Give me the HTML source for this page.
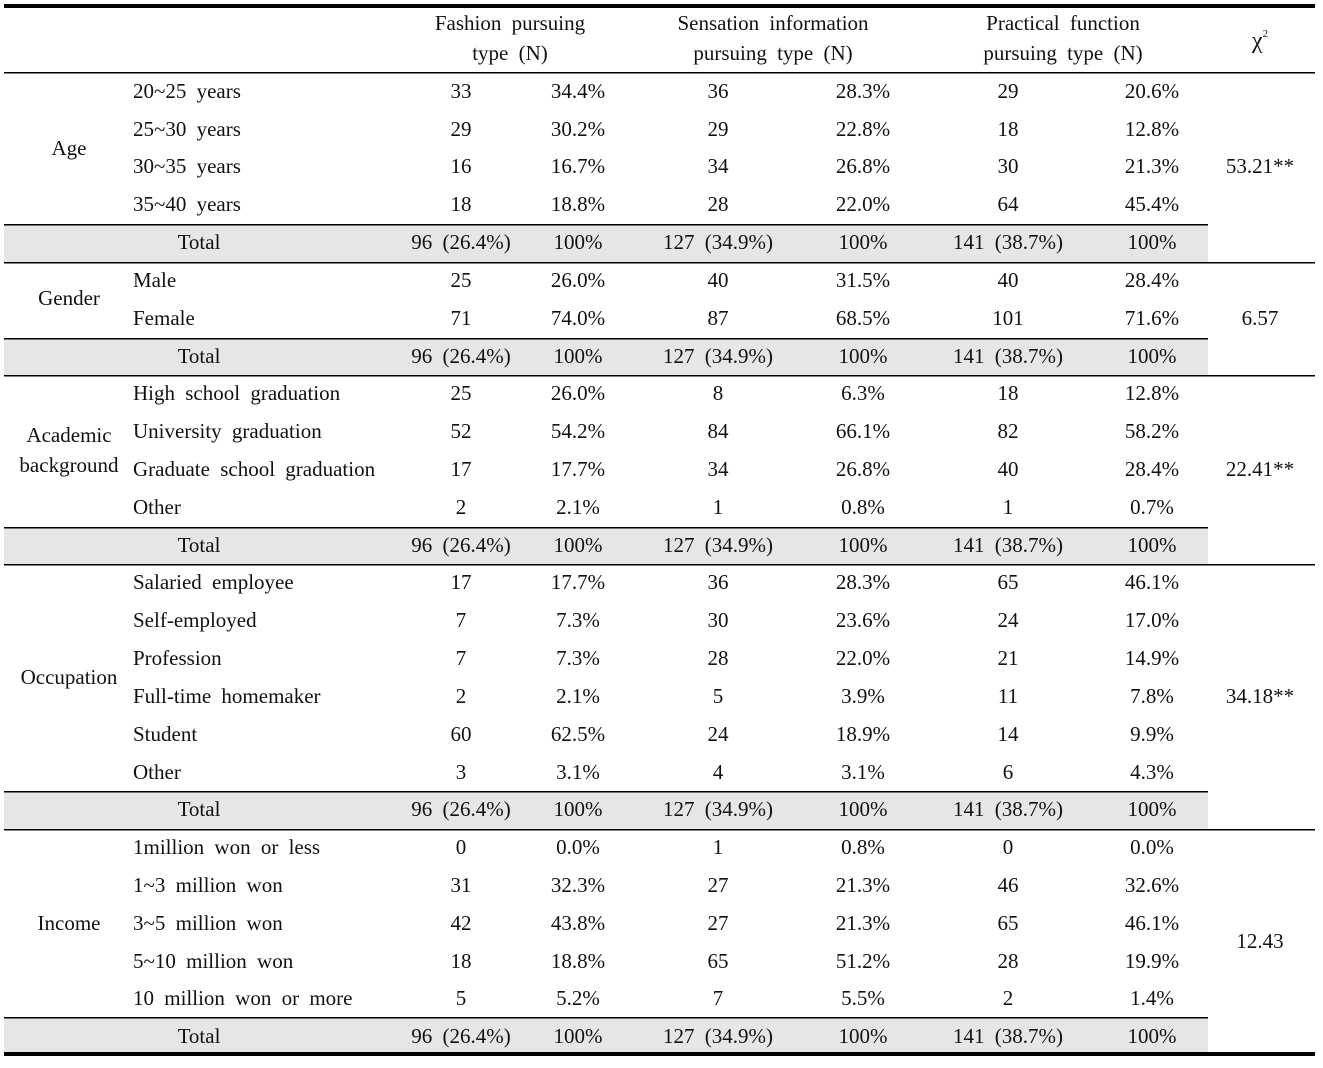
<!DOCTYPE html>
<html><head><style>
body{margin:0;background:#fff}
svg text{font-family:"Liberation Serif",serif;font-size:21px;fill:#111;word-spacing:5px}
</style></head><body>
<svg width="1323" height="1063" xmlns="http://www.w3.org/2000/svg">
<g fill="#e6e6e6">
<rect x="4" y="224" width="1204" height="38"/>
<rect x="4" y="338" width="1204" height="37"/>
<rect x="4" y="527" width="1204" height="37"/>
<rect x="4" y="791" width="1204" height="38"/>
<rect x="4" y="1018" width="1204" height="34"/>
</g>
<g fill="#000">
<rect x="4" y="4" width="1311" height="4"/>
<rect x="4" y="72" width="1311" height="1.5"/>
<rect x="4" y="224" width="1204" height="1.5"/>
<rect x="4" y="262" width="1311" height="1.5"/>
<rect x="4" y="338" width="1204" height="1.5"/>
<rect x="4" y="375" width="1311" height="1.5"/>
<rect x="4" y="527" width="1204" height="1.5"/>
<rect x="4" y="564" width="1311" height="1.5"/>
<rect x="4" y="791" width="1204" height="1.5"/>
<rect x="4" y="829" width="1311" height="1.5"/>
<rect x="4" y="1017" width="1204" height="1.5"/>
<rect x="4" y="1052" width="1311" height="4"/>
</g>
<g text-anchor="middle">
<text x="510" y="30">Fashion pursuing</text><text x="510" y="60">type (N)</text>
<text x="773" y="30">Sensation information</text><text x="773" y="60">pursuing type (N)</text>
<text x="1063" y="30">Practical function</text><text x="1063" y="60">pursuing type (N)</text>
<text x="1260" y="48" style="font-size:24px">χ<tspan font-size="11" dy="-11">2</tspan></text>
<text x="69" y="155">Age</text>
<text x="69" y="305">Gender</text>
<text x="69" y="442">Academic</text><text x="69" y="472">background</text>
<text x="69" y="684">Occupation</text>
<text x="69" y="930">Income</text>
<text x="1260" y="173">53.21**</text>
<text x="1260" y="325">6.57</text>
<text x="1260" y="476">22.41**</text>
<text x="1260" y="703">34.18**</text>
<text x="1260" y="948">12.43</text>
</g>
<g>
<text x="133" y="98">20~25 years</text>
<text x="133" y="136">25~30 years</text>
<text x="133" y="173">30~35 years</text>
<text x="133" y="211">35~40 years</text>
<text x="133" y="287">Male</text>
<text x="133" y="325">Female</text>
<text x="133" y="400">High school graduation</text>
<text x="133" y="438">University graduation</text>
<text x="133" y="476">Graduate school graduation</text>
<text x="133" y="514">Other</text>
<text x="133" y="589">Salaried employee</text>
<text x="133" y="627">Self-employed</text>
<text x="133" y="665">Profession</text>
<text x="133" y="703">Full-time homemaker</text>
<text x="133" y="741">Student</text>
<text x="133" y="779">Other</text>
<text x="133" y="854">1million won or less</text>
<text x="133" y="892">1~3 million won</text>
<text x="133" y="930">3~5 million won</text>
<text x="133" y="968">5~10 million won</text>
<text x="133" y="1005">10 million won or more</text>
</g>
<g text-anchor="middle">
<text x="461" y="98">33</text><text x="578" y="98">34.4%</text><text x="718" y="98">36</text><text x="863" y="98">28.3%</text><text x="1008" y="98">29</text><text x="1152" y="98">20.6%</text>
<text x="461" y="136">29</text><text x="578" y="136">30.2%</text><text x="718" y="136">29</text><text x="863" y="136">22.8%</text><text x="1008" y="136">18</text><text x="1152" y="136">12.8%</text>
<text x="461" y="173">16</text><text x="578" y="173">16.7%</text><text x="718" y="173">34</text><text x="863" y="173">26.8%</text><text x="1008" y="173">30</text><text x="1152" y="173">21.3%</text>
<text x="461" y="211">18</text><text x="578" y="211">18.8%</text><text x="718" y="211">28</text><text x="863" y="211">22.0%</text><text x="1008" y="211">64</text><text x="1152" y="211">45.4%</text>
<text x="461" y="287">25</text><text x="578" y="287">26.0%</text><text x="718" y="287">40</text><text x="863" y="287">31.5%</text><text x="1008" y="287">40</text><text x="1152" y="287">28.4%</text>
<text x="461" y="325">71</text><text x="578" y="325">74.0%</text><text x="718" y="325">87</text><text x="863" y="325">68.5%</text><text x="1008" y="325">101</text><text x="1152" y="325">71.6%</text>
<text x="461" y="400">25</text><text x="578" y="400">26.0%</text><text x="718" y="400">8</text><text x="863" y="400">6.3%</text><text x="1008" y="400">18</text><text x="1152" y="400">12.8%</text>
<text x="461" y="438">52</text><text x="578" y="438">54.2%</text><text x="718" y="438">84</text><text x="863" y="438">66.1%</text><text x="1008" y="438">82</text><text x="1152" y="438">58.2%</text>
<text x="461" y="476">17</text><text x="578" y="476">17.7%</text><text x="718" y="476">34</text><text x="863" y="476">26.8%</text><text x="1008" y="476">40</text><text x="1152" y="476">28.4%</text>
<text x="461" y="514">2</text><text x="578" y="514">2.1%</text><text x="718" y="514">1</text><text x="863" y="514">0.8%</text><text x="1008" y="514">1</text><text x="1152" y="514">0.7%</text>
<text x="461" y="589">17</text><text x="578" y="589">17.7%</text><text x="718" y="589">36</text><text x="863" y="589">28.3%</text><text x="1008" y="589">65</text><text x="1152" y="589">46.1%</text>
<text x="461" y="627">7</text><text x="578" y="627">7.3%</text><text x="718" y="627">30</text><text x="863" y="627">23.6%</text><text x="1008" y="627">24</text><text x="1152" y="627">17.0%</text>
<text x="461" y="665">7</text><text x="578" y="665">7.3%</text><text x="718" y="665">28</text><text x="863" y="665">22.0%</text><text x="1008" y="665">21</text><text x="1152" y="665">14.9%</text>
<text x="461" y="703">2</text><text x="578" y="703">2.1%</text><text x="718" y="703">5</text><text x="863" y="703">3.9%</text><text x="1008" y="703">11</text><text x="1152" y="703">7.8%</text>
<text x="461" y="741">60</text><text x="578" y="741">62.5%</text><text x="718" y="741">24</text><text x="863" y="741">18.9%</text><text x="1008" y="741">14</text><text x="1152" y="741">9.9%</text>
<text x="461" y="779">3</text><text x="578" y="779">3.1%</text><text x="718" y="779">4</text><text x="863" y="779">3.1%</text><text x="1008" y="779">6</text><text x="1152" y="779">4.3%</text>
<text x="461" y="854">0</text><text x="578" y="854">0.0%</text><text x="718" y="854">1</text><text x="863" y="854">0.8%</text><text x="1008" y="854">0</text><text x="1152" y="854">0.0%</text>
<text x="461" y="892">31</text><text x="578" y="892">32.3%</text><text x="718" y="892">27</text><text x="863" y="892">21.3%</text><text x="1008" y="892">46</text><text x="1152" y="892">32.6%</text>
<text x="461" y="930">42</text><text x="578" y="930">43.8%</text><text x="718" y="930">27</text><text x="863" y="930">21.3%</text><text x="1008" y="930">65</text><text x="1152" y="930">46.1%</text>
<text x="461" y="968">18</text><text x="578" y="968">18.8%</text><text x="718" y="968">65</text><text x="863" y="968">51.2%</text><text x="1008" y="968">28</text><text x="1152" y="968">19.9%</text>
<text x="461" y="1005">5</text><text x="578" y="1005">5.2%</text><text x="718" y="1005">7</text><text x="863" y="1005">5.5%</text><text x="1008" y="1005">2</text><text x="1152" y="1005">1.4%</text>
</g>
<g text-anchor="middle">
<g transform="translate(0,249)"><text x="199">Total</text><text x="461">96 (26.4%)</text><text x="578">100%</text><text x="718">127 (34.9%)</text><text x="863">100%</text><text x="1008">141 (38.7%)</text><text x="1152">100%</text></g>
<g transform="translate(0,363)"><text x="199">Total</text><text x="461">96 (26.4%)</text><text x="578">100%</text><text x="718">127 (34.9%)</text><text x="863">100%</text><text x="1008">141 (38.7%)</text><text x="1152">100%</text></g>
<g transform="translate(0,552)"><text x="199">Total</text><text x="461">96 (26.4%)</text><text x="578">100%</text><text x="718">127 (34.9%)</text><text x="863">100%</text><text x="1008">141 (38.7%)</text><text x="1152">100%</text></g>
<g transform="translate(0,816)"><text x="199">Total</text><text x="461">96 (26.4%)</text><text x="578">100%</text><text x="718">127 (34.9%)</text><text x="863">100%</text><text x="1008">141 (38.7%)</text><text x="1152">100%</text></g>
<g transform="translate(0,1043)"><text x="199">Total</text><text x="461">96 (26.4%)</text><text x="578">100%</text><text x="718">127 (34.9%)</text><text x="863">100%</text><text x="1008">141 (38.7%)</text><text x="1152">100%</text></g>
</g>
</svg>
</body></html>
